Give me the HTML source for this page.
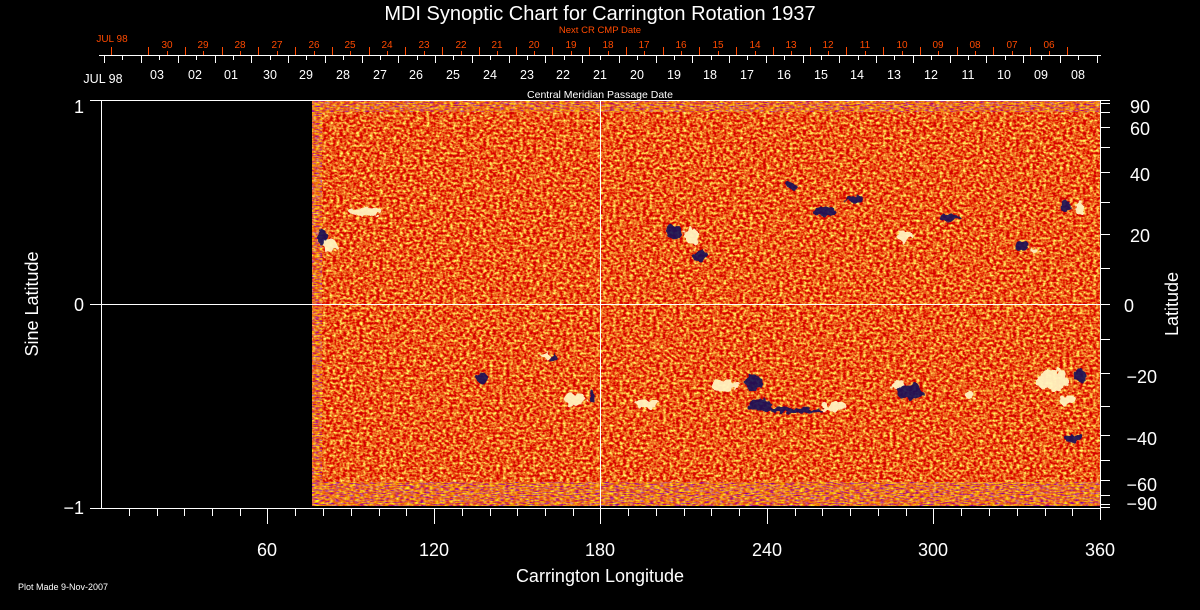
<!DOCTYPE html>
<html><head><meta charset="utf-8"><style>
html,body{margin:0;padding:0;background:#000;}
svg{display:block;}
text{font-family:"Liberation Sans",sans-serif;}
filter{color-interpolation-filters:sRGB;}
</style></head><body>
<svg width="1200" height="610" viewBox="0 0 1200 610" xmlns="http://www.w3.org/2000/svg">
<defs>
<filter id="nz" x="0" y="0" width="100%" height="100%" color-interpolation-filters="sRGB">
<feTurbulence type="fractalNoise" baseFrequency="0.3 0.4" numOctaves="2" seed="3"/>
<feColorMatrix type="matrix" values="0.4 0 0 0 0.72  2.2 0 0 0 -0.75  1.0 0 0 0 -0.4  0 0 0 0 1"/>
</filter>
<filter id="ed" x="0" y="0" width="100%" height="100%" color-interpolation-filters="sRGB">
<feTurbulence type="fractalNoise" baseFrequency="0.2 0.9" numOctaves="1" seed="7"/>
<feColorMatrix type="matrix" values="2.5 0 0 0 -0.3  3 0 0 0 -1.0  -4 0 0 0 2.2  0 0 0 0 1"/>
</filter>
<filter id="bl" x="-10%" y="-10%" width="120%" height="120%" color-interpolation-filters="sRGB">
<feTurbulence type="fractalNoise" baseFrequency="0.15" numOctaves="2" seed="11" result="t"/>
<feDisplacementMap in="SourceGraphic" in2="t" scale="10" xChannelSelector="R" yChannelSelector="G"/>
</filter>
</defs>
<rect width="1200" height="610" fill="#000"/>
<rect x="312" y="100" width="788" height="406" fill="#ec5a1c"/>
<rect x="312" y="100" width="788" height="406" filter="url(#nz)"/>
<rect x="312" y="100" width="788" height="12" filter="url(#ed)" opacity="0.5"/>
<rect x="312" y="482" width="788" height="24" filter="url(#ed)" opacity="0.55"/>
<rect x="312" y="100" width="10" height="406" filter="url(#ed)" opacity="0.5"/>
<g filter="url(#bl)">
<g fill="#fff4c0" opacity="0.95">
<ellipse cx="330" cy="245" rx="7" ry="7"/>
<ellipse cx="365" cy="212" rx="15" ry="5"/>
<ellipse cx="692" cy="236" rx="7" ry="8"/>
<ellipse cx="905" cy="236" rx="8" ry="5"/>
<ellipse cx="1035" cy="250" rx="5" ry="3"/>
<ellipse cx="1080" cy="208" rx="5" ry="7"/>
<ellipse cx="545" cy="356" rx="5" ry="3"/>
<ellipse cx="575" cy="400" rx="11" ry="6"/>
<ellipse cx="645" cy="404" rx="12" ry="4"/>
<ellipse cx="725" cy="385" rx="14" ry="5"/>
<ellipse cx="835" cy="407" rx="12" ry="4"/>
<ellipse cx="898" cy="385" rx="6" ry="4"/>
<ellipse cx="970" cy="395" rx="5" ry="3"/>
<ellipse cx="1052" cy="380" rx="16" ry="11"/>
<ellipse cx="1068" cy="400" rx="8" ry="5"/>
</g>
<g fill="#14105a" opacity="0.9">
<ellipse cx="322" cy="238" rx="5" ry="7"/>
<ellipse cx="675" cy="232" rx="8" ry="7"/>
<ellipse cx="700" cy="255" rx="7" ry="6"/>
<ellipse cx="792" cy="186" rx="5" ry="4"/>
<ellipse cx="825" cy="212" rx="12" ry="5"/>
<ellipse cx="855" cy="200" rx="9" ry="5"/>
<ellipse cx="950" cy="218" rx="10" ry="3"/>
<ellipse cx="1022" cy="245" rx="7" ry="4"/>
<ellipse cx="1066" cy="206" rx="4" ry="6"/>
<ellipse cx="482" cy="378" rx="6" ry="5"/>
<ellipse cx="553" cy="358" rx="3" ry="4"/>
<ellipse cx="592" cy="398" rx="4" ry="6"/>
<ellipse cx="755" cy="382" rx="10" ry="7"/>
<ellipse cx="795" cy="410" rx="30" ry="3"/>
<ellipse cx="760" cy="405" rx="11" ry="6"/>
<ellipse cx="910" cy="392" rx="13" ry="7"/>
<ellipse cx="1080" cy="376" rx="6" ry="7"/>
<ellipse cx="1072" cy="438" rx="10" ry="3"/>
</g>
</g>
<g stroke="#fff" stroke-width="1" fill="none">
<line x1="90" y1="100.5" x2="1100" y2="100.5"/>
<line x1="90" y1="508.5" x2="1100" y2="508.5"/>
<line x1="101.5" y1="100" x2="101.5" y2="508"/>
<line x1="1100.5" y1="100" x2="1100.5" y2="520"/>
<line x1="101" y1="304.5" x2="1110" y2="304.5"/>
<line x1="600.5" y1="100" x2="600.5" y2="524"/>
<line x1="90" y1="304.5" x2="101" y2="304.5"/>
<path d="M129.5 508v8M157.5 508v8M184.5 508v8M212.5 508v8M240.5 508v8M267.5 508v16M295.5 508v8M323.5 508v8M351.5 508v8M379.5 508v8M406.5 508v8M434.5 508v16M462.5 508v8M490.5 508v8M517.5 508v8M545.5 508v8M573.5 508v8M628.5 508v8M656.5 508v8M684.5 508v8M711.5 508v8M739.5 508v8M767.5 508v16M795.5 508v8M822.5 508v8M850.5 508v8M878.5 508v8M906.5 508v8M933.5 508v16M961.5 508v8M989.5 508v8M1017.5 508v8M1045.5 508v8M1072.5 508v8"/>
<path d="M1100 100.5h10M1100 103.5h10M1100 112.5h10M1100 127.5h10M1100 147.5h10M1100 172.5h10M1100 202.5h10M1100 234.5h10M1100 268.5h10M1100 304.5h10M1100 339.5h10M1100 373.5h10M1100 406.5h10M1100 435.5h10M1100 460.5h10M1100 480.5h10M1100 495.5h10M1100 504.5h10M1100 507.5h10"/>
<line x1="99" y1="55.5" x2="1101" y2="55.5"/>
</g>
<g stroke="#fff" stroke-width="1">
<path d="M104.5 55v8M141.5 55v8M178.5 55v8M215.5 55v8M251.5 55v8M288.5 55v8M325.5 55v8M362.5 55v8M398.5 55v8M435.5 55v8M472.5 55v8M509.5 55v8M545.5 55v8M582.5 55v8M619.5 55v8M656.5 55v8M692.5 55v8M729.5 55v8M766.5 55v8M803.5 55v8M839.5 55v8M876.5 55v8M913.5 55v8M950.5 55v8M986.5 55v8M1023.5 55v8M1060.5 55v8M1097.5 55v8"/>
<path d="M122.5 55v5M159.5 55v5M196.5 55v5M233.5 55v5M270.5 55v5M306.5 55v5M343.5 55v5M380.5 55v5M417.5 55v5M453.5 55v5M490.5 55v5M527.5 55v5M564.5 55v5M600.5 55v5M637.5 55v5M674.5 55v5M711.5 55v5M747.5 55v5M784.5 55v5M821.5 55v5M858.5 55v5M894.5 55v5M931.5 55v5M968.5 55v5M1005.5 55v5M1041.5 55v5M1078.5 55v5"/>
</g>
<g stroke="#ff4a00" stroke-width="1">
<path d="M111.5 47v8M148.5 47v8M185.5 47v8M222.5 47v8M258.5 47v8M295.5 47v8M332.5 47v8M369.5 47v8M405.5 47v8M442.5 47v8M479.5 47v8M516.5 47v8M552.5 47v8M589.5 47v8M626.5 47v8M663.5 47v8M699.5 47v8M736.5 47v8M773.5 47v8M810.5 47v8M846.5 47v8M883.5 47v8M920.5 47v8M957.5 47v8M993.5 47v8M1030.5 47v8M1067.5 47v8"/>
<path d="M167.5 51v4M203.5 51v4M240.5 51v4M277.5 51v4M314.5 51v4M350.5 51v4M387.5 51v4M424.5 51v4M461.5 51v4M497.5 51v4M534.5 51v4M571.5 51v4M608.5 51v4M644.5 51v4M681.5 51v4M718.5 51v4M755.5 51v4M791.5 51v4M828.5 51v4M865.5 51v4M902.5 51v4M938.5 51v4M975.5 51v4M1012.5 51v4M1049.5 51v4"/>
</g>
<text x="600" y="20" fill="#fff" font-size="20" text-anchor="middle">MDI Synoptic Chart for Carrington Rotation 1937</text>
<text x="600" y="33" fill="#ff4a00" font-size="9.5" text-anchor="middle">Next CR CMP Date</text>
<text x="600" y="98" fill="#fff" font-size="10.5" text-anchor="middle">Central Meridian Passage Date</text>
<g fill="#ff4a00" font-size="10" text-anchor="middle">
<text x="112" y="42">JUL 98</text>
<text x="167" y="48">30</text><text x="203" y="48">29</text><text x="240" y="48">28</text><text x="277" y="48">27</text><text x="314" y="48">26</text><text x="350" y="48">25</text><text x="387" y="48">24</text><text x="424" y="48">23</text><text x="461" y="48">22</text><text x="497" y="48">21</text><text x="534" y="48">20</text><text x="571" y="48">19</text><text x="608" y="48">18</text><text x="644" y="48">17</text><text x="681" y="48">16</text><text x="718" y="48">15</text><text x="755" y="48">14</text><text x="791" y="48">13</text><text x="828" y="48">12</text><text x="865" y="48">11</text><text x="902" y="48">10</text><text x="938" y="48">09</text><text x="975" y="48">08</text><text x="1012" y="48">07</text><text x="1049" y="48">06</text>
</g>
<g fill="#fff" font-size="12.5" text-anchor="middle">
<text x="103" y="83">JUL 98</text>
<text x="157" y="79">03</text><text x="195" y="79">02</text><text x="231" y="79">01</text><text x="270" y="79">30</text><text x="306" y="79">29</text><text x="343" y="79">28</text><text x="380" y="79">27</text><text x="416" y="79">26</text><text x="453" y="79">25</text><text x="490" y="79">24</text><text x="527" y="79">23</text><text x="563" y="79">22</text><text x="600" y="79">21</text><text x="637" y="79">20</text><text x="674" y="79">19</text><text x="710" y="79">18</text><text x="747" y="79">17</text><text x="784" y="79">16</text><text x="821" y="79">15</text><text x="857" y="79">14</text><text x="894" y="79">13</text><text x="931" y="79">12</text><text x="968" y="79">11</text><text x="1004" y="79">10</text><text x="1041" y="79">09</text><text x="1078" y="79">08</text>
</g>
<g fill="#fff" font-size="18">
<text x="267" y="556" text-anchor="middle">60</text>
<text x="434" y="556" text-anchor="middle">120</text>
<text x="600" y="556" text-anchor="middle">180</text>
<text x="767" y="556" text-anchor="middle">240</text>
<text x="933" y="556" text-anchor="middle">300</text>
<text x="1100" y="556" text-anchor="middle">360</text>
<text x="84" y="113" text-anchor="end">1</text>
<text x="84" y="311" text-anchor="end">0</text>
<text x="84" y="514" text-anchor="end">−1</text>
<g text-anchor="end">
<text x="1150" y="113">90</text><text x="1150" y="135">60</text><text x="1150" y="181">40</text><text x="1150" y="242">20</text><text x="1134" y="312">0</text><text x="1157" y="383">−20</text><text x="1157" y="445">−40</text><text x="1157" y="491">−60</text><text x="1157" y="510">−90</text>
</g>
<text x="600" y="582" text-anchor="middle">Carrington Longitude</text>
<text transform="translate(38 304) rotate(-90)" text-anchor="middle">Sine Latitude</text>
<text transform="translate(1178 304) rotate(-90)" text-anchor="middle">Latitude</text>
</g>
<text x="18" y="590" fill="#fff" font-size="9">Plot Made  9-Nov-2007</text>
</svg>
</body></html>
